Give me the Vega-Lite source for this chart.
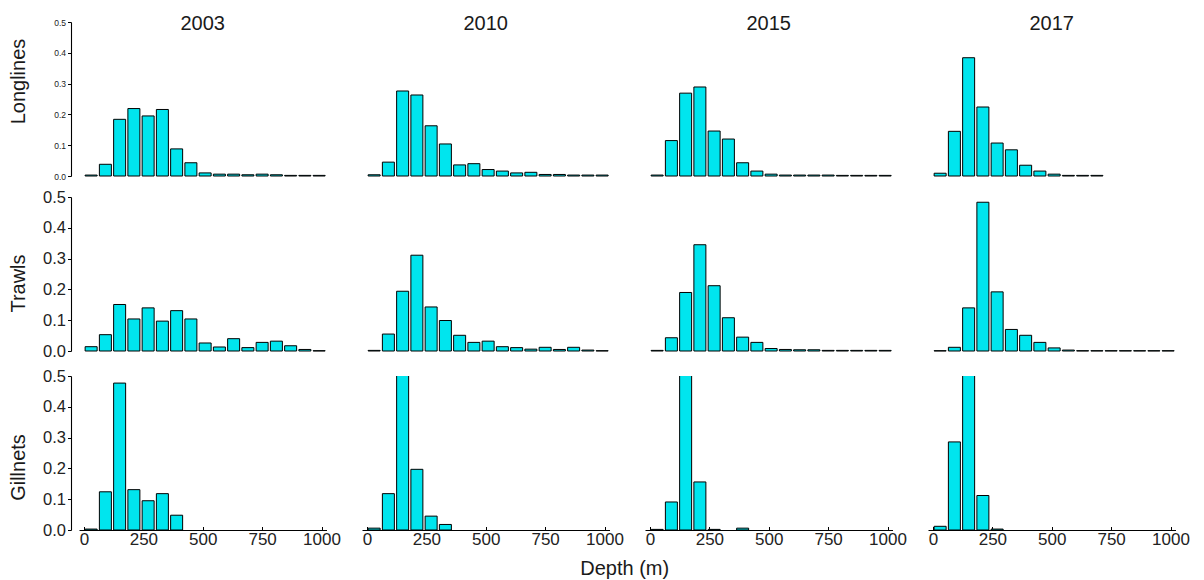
{
  "$schema": "https://vega.github.io/schema/vega-lite/v6.json",
  "background": "white",
  "padding": {"left": 8, "top": 14, "right": 5, "bottom": 2},
  "title": {"text": "Depth (m)", "orient": "bottom", "anchor": "middle", "offset": 11, "dx": 26, "fontSize": 20, "fontWeight": "normal", "color": "#1A1A1A", "font": "Liberation Sans"},
  "data": {
    "values": [
      {"gear": "Longlines", "year": 2003, "depth": 30, "prop": 0.003},
      {"gear": "Longlines", "year": 2003, "depth": 90, "prop": 0.038},
      {"gear": "Longlines", "year": 2003, "depth": 150, "prop": 0.184},
      {"gear": "Longlines", "year": 2003, "depth": 210, "prop": 0.219},
      {"gear": "Longlines", "year": 2003, "depth": 270, "prop": 0.195},
      {"gear": "Longlines", "year": 2003, "depth": 330, "prop": 0.216},
      {"gear": "Longlines", "year": 2003, "depth": 390, "prop": 0.088},
      {"gear": "Longlines", "year": 2003, "depth": 450, "prop": 0.043},
      {"gear": "Longlines", "year": 2003, "depth": 510, "prop": 0.010},
      {"gear": "Longlines", "year": 2003, "depth": 570, "prop": 0.006},
      {"gear": "Longlines", "year": 2003, "depth": 630, "prop": 0.006},
      {"gear": "Longlines", "year": 2003, "depth": 690, "prop": 0.004},
      {"gear": "Longlines", "year": 2003, "depth": 750, "prop": 0.006},
      {"gear": "Longlines", "year": 2003, "depth": 810, "prop": 0.004},
      {"gear": "Longlines", "year": 2003, "depth": 870, "prop": 0.002},
      {"gear": "Longlines", "year": 2003, "depth": 930, "prop": 0.002},
      {"gear": "Longlines", "year": 2003, "depth": 990, "prop": 0.002},
      {"gear": "Longlines", "year": 2010, "depth": 30, "prop": 0.004},
      {"gear": "Longlines", "year": 2010, "depth": 90, "prop": 0.045},
      {"gear": "Longlines", "year": 2010, "depth": 150, "prop": 0.276},
      {"gear": "Longlines", "year": 2010, "depth": 210, "prop": 0.263},
      {"gear": "Longlines", "year": 2010, "depth": 270, "prop": 0.163},
      {"gear": "Longlines", "year": 2010, "depth": 330, "prop": 0.104},
      {"gear": "Longlines", "year": 2010, "depth": 390, "prop": 0.036},
      {"gear": "Longlines", "year": 2010, "depth": 450, "prop": 0.040},
      {"gear": "Longlines", "year": 2010, "depth": 510, "prop": 0.021},
      {"gear": "Longlines", "year": 2010, "depth": 570, "prop": 0.016},
      {"gear": "Longlines", "year": 2010, "depth": 630, "prop": 0.010},
      {"gear": "Longlines", "year": 2010, "depth": 690, "prop": 0.012},
      {"gear": "Longlines", "year": 2010, "depth": 750, "prop": 0.005},
      {"gear": "Longlines", "year": 2010, "depth": 810, "prop": 0.005},
      {"gear": "Longlines", "year": 2010, "depth": 870, "prop": 0.003},
      {"gear": "Longlines", "year": 2010, "depth": 930, "prop": 0.003},
      {"gear": "Longlines", "year": 2010, "depth": 990, "prop": 0.003},
      {"gear": "Longlines", "year": 2015, "depth": 30, "prop": 0.003},
      {"gear": "Longlines", "year": 2015, "depth": 90, "prop": 0.115},
      {"gear": "Longlines", "year": 2015, "depth": 150, "prop": 0.269},
      {"gear": "Longlines", "year": 2015, "depth": 210, "prop": 0.289},
      {"gear": "Longlines", "year": 2015, "depth": 270, "prop": 0.146},
      {"gear": "Longlines", "year": 2015, "depth": 330, "prop": 0.120},
      {"gear": "Longlines", "year": 2015, "depth": 390, "prop": 0.043},
      {"gear": "Longlines", "year": 2015, "depth": 450, "prop": 0.016},
      {"gear": "Longlines", "year": 2015, "depth": 510, "prop": 0.006},
      {"gear": "Longlines", "year": 2015, "depth": 570, "prop": 0.003},
      {"gear": "Longlines", "year": 2015, "depth": 630, "prop": 0.003},
      {"gear": "Longlines", "year": 2015, "depth": 690, "prop": 0.003},
      {"gear": "Longlines", "year": 2015, "depth": 750, "prop": 0.003},
      {"gear": "Longlines", "year": 2015, "depth": 810, "prop": 0.002},
      {"gear": "Longlines", "year": 2015, "depth": 870, "prop": 0.002},
      {"gear": "Longlines", "year": 2015, "depth": 930, "prop": 0.002},
      {"gear": "Longlines", "year": 2015, "depth": 990, "prop": 0.002},
      {"gear": "Longlines", "year": 2017, "depth": 30, "prop": 0.009},
      {"gear": "Longlines", "year": 2017, "depth": 90, "prop": 0.145},
      {"gear": "Longlines", "year": 2017, "depth": 150, "prop": 0.384},
      {"gear": "Longlines", "year": 2017, "depth": 210, "prop": 0.224},
      {"gear": "Longlines", "year": 2017, "depth": 270, "prop": 0.107},
      {"gear": "Longlines", "year": 2017, "depth": 330, "prop": 0.085},
      {"gear": "Longlines", "year": 2017, "depth": 390, "prop": 0.035},
      {"gear": "Longlines", "year": 2017, "depth": 450, "prop": 0.016},
      {"gear": "Longlines", "year": 2017, "depth": 510, "prop": 0.006},
      {"gear": "Longlines", "year": 2017, "depth": 570, "prop": 0.002},
      {"gear": "Longlines", "year": 2017, "depth": 630, "prop": 0.002},
      {"gear": "Longlines", "year": 2017, "depth": 690, "prop": 0.002},
      {"gear": "Trawls", "year": 2003, "depth": 30, "prop": 0.014},
      {"gear": "Trawls", "year": 2003, "depth": 90, "prop": 0.053},
      {"gear": "Trawls", "year": 2003, "depth": 150, "prop": 0.151},
      {"gear": "Trawls", "year": 2003, "depth": 210, "prop": 0.104},
      {"gear": "Trawls", "year": 2003, "depth": 270, "prop": 0.140},
      {"gear": "Trawls", "year": 2003, "depth": 330, "prop": 0.097},
      {"gear": "Trawls", "year": 2003, "depth": 390, "prop": 0.131},
      {"gear": "Trawls", "year": 2003, "depth": 450, "prop": 0.104},
      {"gear": "Trawls", "year": 2003, "depth": 510, "prop": 0.026},
      {"gear": "Trawls", "year": 2003, "depth": 570, "prop": 0.013},
      {"gear": "Trawls", "year": 2003, "depth": 630, "prop": 0.040},
      {"gear": "Trawls", "year": 2003, "depth": 690, "prop": 0.011},
      {"gear": "Trawls", "year": 2003, "depth": 750, "prop": 0.028},
      {"gear": "Trawls", "year": 2003, "depth": 810, "prop": 0.032},
      {"gear": "Trawls", "year": 2003, "depth": 870, "prop": 0.017},
      {"gear": "Trawls", "year": 2003, "depth": 930, "prop": 0.005},
      {"gear": "Trawls", "year": 2003, "depth": 990, "prop": 0.001},
      {"gear": "Trawls", "year": 2010, "depth": 30, "prop": 0.002},
      {"gear": "Trawls", "year": 2010, "depth": 90, "prop": 0.055},
      {"gear": "Trawls", "year": 2010, "depth": 150, "prop": 0.194},
      {"gear": "Trawls", "year": 2010, "depth": 210, "prop": 0.311},
      {"gear": "Trawls", "year": 2010, "depth": 270, "prop": 0.143},
      {"gear": "Trawls", "year": 2010, "depth": 330, "prop": 0.099},
      {"gear": "Trawls", "year": 2010, "depth": 390, "prop": 0.051},
      {"gear": "Trawls", "year": 2010, "depth": 450, "prop": 0.028},
      {"gear": "Trawls", "year": 2010, "depth": 510, "prop": 0.032},
      {"gear": "Trawls", "year": 2010, "depth": 570, "prop": 0.014},
      {"gear": "Trawls", "year": 2010, "depth": 630, "prop": 0.011},
      {"gear": "Trawls", "year": 2010, "depth": 690, "prop": 0.006},
      {"gear": "Trawls", "year": 2010, "depth": 750, "prop": 0.012},
      {"gear": "Trawls", "year": 2010, "depth": 810, "prop": 0.005},
      {"gear": "Trawls", "year": 2010, "depth": 870, "prop": 0.012},
      {"gear": "Trawls", "year": 2010, "depth": 930, "prop": 0.003},
      {"gear": "Trawls", "year": 2010, "depth": 990, "prop": 0.001},
      {"gear": "Trawls", "year": 2015, "depth": 30, "prop": 0.002},
      {"gear": "Trawls", "year": 2015, "depth": 90, "prop": 0.043},
      {"gear": "Trawls", "year": 2015, "depth": 150, "prop": 0.190},
      {"gear": "Trawls", "year": 2015, "depth": 210, "prop": 0.345},
      {"gear": "Trawls", "year": 2015, "depth": 270, "prop": 0.212},
      {"gear": "Trawls", "year": 2015, "depth": 330, "prop": 0.108},
      {"gear": "Trawls", "year": 2015, "depth": 390, "prop": 0.045},
      {"gear": "Trawls", "year": 2015, "depth": 450, "prop": 0.028},
      {"gear": "Trawls", "year": 2015, "depth": 510, "prop": 0.008},
      {"gear": "Trawls", "year": 2015, "depth": 570, "prop": 0.005},
      {"gear": "Trawls", "year": 2015, "depth": 630, "prop": 0.004},
      {"gear": "Trawls", "year": 2015, "depth": 690, "prop": 0.004},
      {"gear": "Trawls", "year": 2015, "depth": 750, "prop": 0.002},
      {"gear": "Trawls", "year": 2015, "depth": 810, "prop": 0.002},
      {"gear": "Trawls", "year": 2015, "depth": 870, "prop": 0.002},
      {"gear": "Trawls", "year": 2015, "depth": 930, "prop": 0.002},
      {"gear": "Trawls", "year": 2015, "depth": 990, "prop": 0.002},
      {"gear": "Trawls", "year": 2017, "depth": 30, "prop": 0.001},
      {"gear": "Trawls", "year": 2017, "depth": 90, "prop": 0.012},
      {"gear": "Trawls", "year": 2017, "depth": 150, "prop": 0.140},
      {"gear": "Trawls", "year": 2017, "depth": 210, "prop": 0.483},
      {"gear": "Trawls", "year": 2017, "depth": 270, "prop": 0.192},
      {"gear": "Trawls", "year": 2017, "depth": 330, "prop": 0.070},
      {"gear": "Trawls", "year": 2017, "depth": 390, "prop": 0.051},
      {"gear": "Trawls", "year": 2017, "depth": 450, "prop": 0.028},
      {"gear": "Trawls", "year": 2017, "depth": 510, "prop": 0.010},
      {"gear": "Trawls", "year": 2017, "depth": 570, "prop": 0.003},
      {"gear": "Trawls", "year": 2017, "depth": 630, "prop": 0.001},
      {"gear": "Trawls", "year": 2017, "depth": 690, "prop": 0.001},
      {"gear": "Trawls", "year": 2017, "depth": 750, "prop": 0.001},
      {"gear": "Trawls", "year": 2017, "depth": 810, "prop": 0.001},
      {"gear": "Trawls", "year": 2017, "depth": 870, "prop": 0.001},
      {"gear": "Trawls", "year": 2017, "depth": 930, "prop": 0.001},
      {"gear": "Trawls", "year": 2017, "depth": 990, "prop": 0.001},
      {"gear": "Gillnets", "year": 2003, "depth": 30, "prop": 0.003},
      {"gear": "Gillnets", "year": 2003, "depth": 90, "prop": 0.124},
      {"gear": "Gillnets", "year": 2003, "depth": 150, "prop": 0.477},
      {"gear": "Gillnets", "year": 2003, "depth": 210, "prop": 0.131},
      {"gear": "Gillnets", "year": 2003, "depth": 270, "prop": 0.095},
      {"gear": "Gillnets", "year": 2003, "depth": 330, "prop": 0.118},
      {"gear": "Gillnets", "year": 2003, "depth": 390, "prop": 0.048},
      {"gear": "Gillnets", "year": 2010, "depth": 30, "prop": 0.006},
      {"gear": "Gillnets", "year": 2010, "depth": 90, "prop": 0.118},
      {"gear": "Gillnets", "year": 2010, "depth": 150, "prop": 0.616},
      {"gear": "Gillnets", "year": 2010, "depth": 210, "prop": 0.197},
      {"gear": "Gillnets", "year": 2010, "depth": 270, "prop": 0.045},
      {"gear": "Gillnets", "year": 2010, "depth": 330, "prop": 0.018},
      {"gear": "Gillnets", "year": 2015, "depth": 30, "prop": 0.002},
      {"gear": "Gillnets", "year": 2015, "depth": 90, "prop": 0.091},
      {"gear": "Gillnets", "year": 2015, "depth": 150, "prop": 0.743},
      {"gear": "Gillnets", "year": 2015, "depth": 210, "prop": 0.156},
      {"gear": "Gillnets", "year": 2015, "depth": 270, "prop": 0.002},
      {"gear": "Gillnets", "year": 2015, "depth": 390, "prop": 0.006},
      {"gear": "Gillnets", "year": 2017, "depth": 30, "prop": 0.012},
      {"gear": "Gillnets", "year": 2017, "depth": 90, "prop": 0.286},
      {"gear": "Gillnets", "year": 2017, "depth": 150, "prop": 0.587},
      {"gear": "Gillnets", "year": 2017, "depth": 210, "prop": 0.112},
      {"gear": "Gillnets", "year": 2017, "depth": 270, "prop": 0.003}
    ]
  },
  "spacing": 8,
  "vconcat": [
    {
      "transform": [{"filter": "datum.gear == 'Longlines'"}],
      "facet": {"column": {"field": "year", "type": "ordinal", "title": null, "header": {"labelFontSize": 20, "labelFont": "Liberation Sans", "labelColor": "#1A1A1A", "labelBaseline": "middle", "labelPadding": -22}}},
      "spacing": 35,
      "spec": {
        "width": 247.5,
        "height": 154,
        "mark": {"type": "bar", "size": 12, "fill": "#00E5EE", "stroke": "black", "strokeWidth": 1, "clip": false},
        "encoding": {
          "x": {"field": "depth", "type": "quantitative", "scale": {"domain": [0, 1000], "nice": false, "zero": false}, "axis": null},
          "y": {"field": "prop", "type": "quantitative", "scale": {"domain": [0, 0.5], "nice": false},
            "axis": {"title": "Longlines", "values": [0, 0.1, 0.2, 0.3, 0.4, 0.5], "format": ".1f", "offset": 8, "domain": true, "domainColor": "black", "domainWidth": 1.1, "grid": false, "tickColor": "black", "tickSize": 3.5, "labelFontSize": 8.5, "labelPadding": 2, "labelColor": "#222222", "labelFont": "Liberation Sans", "titleFont": "Liberation Sans", "titleFontSize": 20, "titleFontWeight": "normal", "titleColor": "#1A1A1A", "titleX": -47, "titleY": 59, "titleBaseline": "alphabetic"}}
        }
      }
    },
    {
      "spacing": 8,
      "vconcat": [
        {
          "transform": [{"filter": "datum.gear == 'Trawls'"}],
          "facet": {"column": {"field": "year", "type": "ordinal", "title": null, "header": {"labels": false}}},
          "spacing": 35,
          "spec": {
            "width": 247.5,
            "height": 154,
            "mark": {"type": "bar", "size": 12, "fill": "#00E5EE", "stroke": "black", "strokeWidth": 1, "clip": false},
            "encoding": {
              "x": {"field": "depth", "type": "quantitative", "scale": {"domain": [0, 1000], "nice": false, "zero": false}, "axis": null},
              "y": {"field": "prop", "type": "quantitative", "scale": {"domain": [0, 0.5], "nice": false},
                "axis": {"title": "Trawls", "values": [0, 0.1, 0.2, 0.3, 0.4, 0.5], "format": ".1f", "offset": 8, "domain": true, "domainColor": "black", "domainWidth": 1.1, "grid": false, "tickColor": "black", "tickSize": 3.5, "labelFontSize": 16.5, "labelPadding": 2, "labelColor": "#222222", "labelFont": "Liberation Sans", "titleFont": "Liberation Sans", "titleFontSize": 20, "titleFontWeight": "normal", "titleColor": "#1A1A1A", "titleX": -47, "titleY": 86, "titleBaseline": "alphabetic"}}
            }
          }
        },
        {
          "transform": [{"filter": "datum.gear == 'Gillnets'"}],
          "facet": {"column": {"field": "year", "type": "ordinal", "title": null, "header": {"labels": false}}},
          "spacing": 35,
          "spec": {
            "width": 247.5,
            "height": 154,
            "mark": {"type": "bar", "size": 12, "fill": "#00E5EE", "stroke": "black", "strokeWidth": 1, "clip": true},
            "encoding": {
              "x": {"field": "depth", "type": "quantitative", "scale": {"domain": [0, 1000], "nice": false, "zero": false},
                "axis": {"title": null, "values": [0, 250, 500, 750, 1000], "format": "d", "domain": true, "domainColor": "black", "domainWidth": 1.1, "grid": false, "tickColor": "black", "tickSize": -3.5, "labelFontSize": 17, "labelPadding": 5, "labelColor": "#222222", "labelFont": "Liberation Sans"}},
              "y": {"field": "prop", "type": "quantitative", "scale": {"domain": [0, 0.5], "nice": false},
                "axis": {"title": "Gillnets", "values": [0, 0.1, 0.2, 0.3, 0.4, 0.5], "format": ".1f", "offset": 8, "domain": true, "domainColor": "black", "domainWidth": 1.1, "grid": false, "tickColor": "black", "tickSize": 3.5, "labelFontSize": 16.5, "labelPadding": 2, "labelColor": "#222222", "labelFont": "Liberation Sans", "titleFont": "Liberation Sans", "titleFontSize": 20, "titleFontWeight": "normal", "titleColor": "#1A1A1A", "titleX": -47, "titleY": 91, "titleBaseline": "alphabetic"}}
            }
          }
        }
      ]
    }
  ],
  "config": {
    "view": {"stroke": null},
    "font": "Liberation Sans"
  }
}
